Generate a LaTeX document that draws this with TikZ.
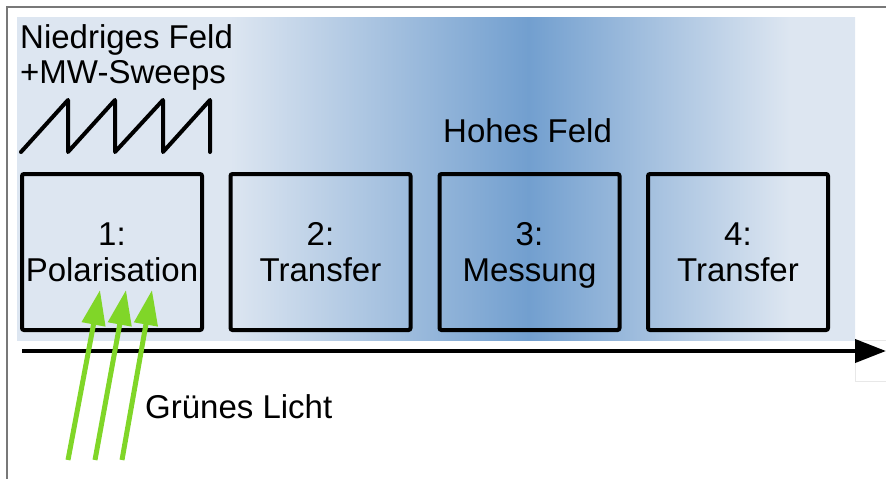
\documentclass[tikz,border=0pt]{standalone}
\usepackage{fontspec}
\setmainfont{Liberation Sans}
\usetikzlibrary{arrows.meta}

\definecolor{fieldlow}{RGB}{221,230,241}
\definecolor{fieldhigh}{RGB}{114,159,207}
\definecolor{framegray}{RGB}{120,120,120}
\definecolor{lightgreen}{RGB}{128,214,40}
\definecolor{boxedge}{RGB}{232,232,232}

% field strength along the time axis: low at the ends, high in the middle
\pgfdeclarehorizontalshading{fieldshade}{100bp}{%
  color(0bp)=(fieldlow); color(25bp)=(fieldlow); color(37.7bp)=(fieldlow);
  color(55.5bp)=(fieldhigh); color(71.1bp)=(fieldlow); color(75bp)=(fieldlow);
  color(100bp)=(fieldlow)}

\tikzset{
  txt/.style={inner sep=0pt, font=\fontsize{33}{36}\selectfont},
  stepbox/.style={draw=black, line width=4pt, rounded corners=2pt,
    minimum width=180pt, minimum height=156pt, inner sep=0pt,
    align=center, text depth=0pt, font=\fontsize{33}{36}\selectfont},
  timeaxis/.style={line width=4pt, -{Triangle[length=31pt,width=23pt]}},
  lightray/.style={draw=lightgreen, line width=5pt,
    -{Triangle[length=35pt,width=23pt]}},
  sweep/.style={line width=4pt, line cap=round, line join=round}
}

\begin{document}
\begin{tikzpicture}[x=1pt,y=-1pt]
\useasboundingbox (0,0) rectangle (886,479);

% outer frame
\draw[framegray, line width=1.5pt] (7,479) -- (7,7) -- (886,7);

% field background
\shade[shading=fieldshade] (17,17) rectangle (855,340);
\draw[boxedge, line width=0.8pt, fill=white] (855,340) rectangle (886,381);

% labels for the field regions
\node[txt, anchor=base west] (lowfield) at (20,48) {Niedriges Feld};
\node[txt, anchor=base west] (sweeps) at (20,83) {+MW-Sweeps};
\node[txt, anchor=base west] (highfield) at (443,142) {Hohes Feld};

% microwave sweep sawtooth
\draw[sweep] (21,152) -- (68,100) -- (68,152) -- (115,100) -- (115,152)
  -- (163,100) -- (163,152) -- (210,100) -- (210,152);

% sequence steps
\node[stepbox] (b1) at (112,252) {1:\\Polarisation};
\node[stepbox] (b2) at (320.5,252) {2:\\Transfer};
\node[stepbox] (b3) at (529.5,252) {3:\\Messung};
\node[stepbox] (b4) at (738,252) {4:\\Transfer};

% time axis
\coordinate (t0) at (22,351);
\coordinate (t1) at (886,351);
\draw[timeaxis] (t0) -- (t1);

% green light
\coordinate (g1) at (68,460);
\coordinate (g2) at (95,460);
\coordinate (g3) at (122,460);
\coordinate (h1) at (100,290);
\coordinate (h2) at (126,290);
\coordinate (h3) at (152,290);
\draw[lightray] (g1) -- (h1);
\draw[lightray] (g2) -- (h2);
\draw[lightray] (g3) -- (h3);
\node[txt, anchor=base west] (light) at (145,418) {Grünes Licht};
\end{tikzpicture}
\end{document}
